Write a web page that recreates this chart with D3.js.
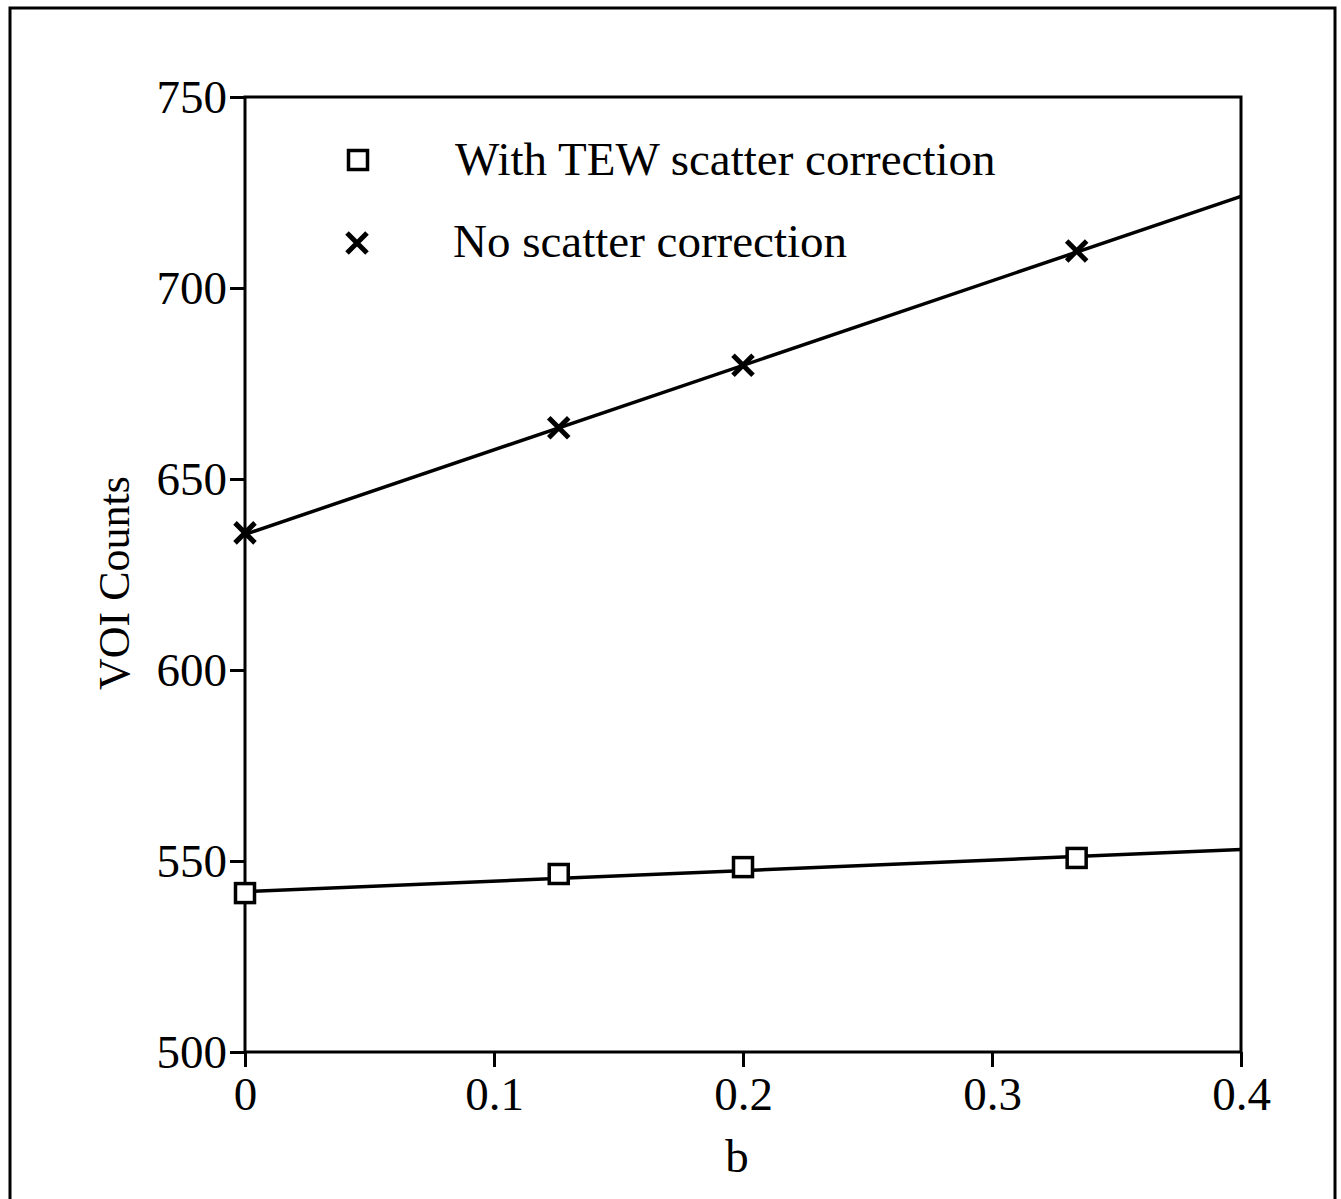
<!DOCTYPE html>
<html>
<head>
<meta charset="utf-8">
<script src="https://d3js.org/d3.v7.min.js"></script>
<style>
  body { margin: 0; background: #fff; }
  text { font-family: "Liberation Serif", "Times New Roman", serif; fill: #000; }
</style>
</head>
<body>
<script>
// data
var bValues = [0, 0.126, 0.2, 0.334];
var tewCounts = [541.6, 546.6, 548.4, 550.8];
var noCorrCounts = [635.9, 663.4, 679.8, 709.7];
// fitted lines (end points)
var tewFit = [[0, 542], [0.4, 553]];
var noCorrFit = [[0, 635.5], [0.4, 724]];
var xTicks = [0, 0.1, 0.2, 0.3, 0.4];
var yTicks = [500, 550, 600, 650, 700, 750];
var legendLabels = ["With TEW scatter correction", "No scatter correction"];

var W = 1341, H = 1199;
var svg = d3.select("body").append("svg").attr("width", W).attr("height", H);

// outer frame
svg.append("rect").attr("x", 10).attr("y", 8).attr("width", 1325).attr("height", 1210)
  .attr("fill", "none").attr("stroke", "#000").attr("stroke-width", 3);

var pLeft = 245, pRight = 1241, pTop = 97, pBottom = 1052;
var x = d3.scaleLinear().domain([0, 0.4]).range([pLeft, pRight]);
var y = d3.scaleLinear().domain([500, 750]).range([pBottom, pTop]);

// plot box
svg.append("rect").attr("x", pLeft).attr("y", pTop).attr("width", pRight - pLeft).attr("height", pBottom - pTop)
  .attr("fill", "none").attr("stroke", "#000").attr("stroke-width", 3);

var xAxis = svg.append("g").attr("transform", "translate(0," + pBottom + ")")
  .call(d3.axisBottom(x).tickValues(xTicks).tickSize(15).tickPadding(10)
    .tickFormat(function (d) { return d === 0 ? "0" : d3.format(".1f")(d); }));
var yAxis = svg.append("g").attr("transform", "translate(" + pLeft + ",0)")
  .call(d3.axisLeft(y).tickValues(yTicks).tickSize(15).tickPadding(3));
[xAxis, yAxis].forEach(function (a) {
  a.select(".domain").remove();
  a.selectAll(".tick line").attr("stroke", "#000").attr("stroke-width", 3);
  a.selectAll(".tick text").attr("font-family", "Liberation Serif, serif").attr("font-size", 47).attr("fill", "#000");
});
yAxis.selectAll(".tick text").attr("dy", "0.33em");

// axis titles
svg.append("text").attr("x", 737).attr("y", 1172).attr("text-anchor", "middle")
  .attr("font-size", 47).text("b");
svg.append("text").attr("transform", "translate(129,583) rotate(-90)").attr("text-anchor", "middle")
  .attr("font-size", 44).text("VOI Counts");

// fit lines
var line = d3.line().x(function (d) { return x(d[0]); }).y(function (d) { return y(d[1]); });
[tewFit, noCorrFit].forEach(function (f) {
  svg.append("path").attr("d", line(f)).attr("fill", "none").attr("stroke", "#000").attr("stroke-width", 3.5);
});

function square(g, cx, cy) {
  g.append("rect").attr("x", cx - 9.5).attr("y", cy - 9.5).attr("width", 19).attr("height", 19)
    .attr("fill", "#fff").attr("stroke", "#000").attr("stroke-width", 3.5);
}
function cross(g, cx, cy) {
  var s = 10;
  g.append("path").attr("d", "M" + (cx - s) + "," + (cy - s) + "L" + (cx + s) + "," + (cy + s) +
    "M" + (cx - s) + "," + (cy + s) + "L" + (cx + s) + "," + (cy - s))
    .attr("stroke", "#000").attr("stroke-width", 5).attr("fill", "none");
}

var pts = svg.append("g");
bValues.forEach(function (b, i) {
  square(pts, x(b), y(tewCounts[i]));
  cross(pts, x(b), y(noCorrCounts[i]));
});

// legend
square(svg, 358, 160);
cross(svg, 357, 243);
svg.append("text").attr("x", 455).attr("y", 175).attr("font-size", 47).text(legendLabels[0]);
svg.append("text").attr("x", 453).attr("y", 257).attr("font-size", 47).text(legendLabels[1]);
</script>
</body>
</html>
